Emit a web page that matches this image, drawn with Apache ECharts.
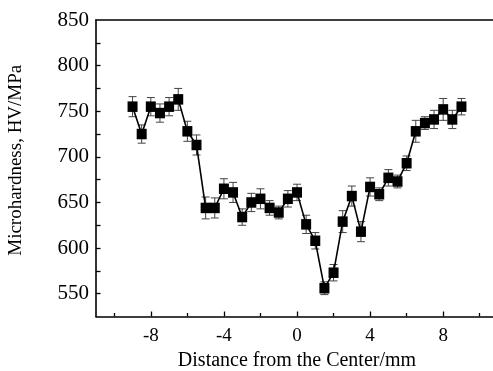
<!DOCTYPE html>
<html>
<head>
<meta charset="utf-8">
<script src="https://cdn.jsdelivr.net/npm/echarts@6/dist/echarts.min.js"></script>
<style>
  html, body { margin: 0; padding: 0; background: #fff; }
  #chart { width: 493px; height: 371px; }
</style>
</head>
<body>
<div id="chart"></div>
<script>
// Distance from the weld center (mm)
const distance = [-9, -8.5, -8, -7.5, -7, -6.5, -6, -5.5, -5, -4.5, -4, -3.5, -3, -2.5, -2, -1.5, -1, -0.5,
                  0, 0.5, 1, 1.5, 2, 2.5, 3, 3.5, 4, 4.5, 5, 5.5, 6, 6.5, 7, 7.5, 8, 8.5, 9];
// Mean microhardness (HV/MPa)
const hardness = [755, 725, 755, 748, 755, 763, 728, 713, 644, 644, 665, 661, 634, 650, 654, 644, 639, 654,
                  661, 626, 608, 556, 573, 629, 657, 618, 667, 659, 677, 673, 693, 728, 737, 741, 752, 741, 755];
// Half-width of the error bars
const spread = [11, 10, 10, 10, 10, 12, 11, 11, 12, 11, 11, 11, 9, 10, 11, 8, 7, 9,
                9, 10, 9, 7, 9, 12, 11, 11, 10, 7, 9, 7, 8, 12, 7, 10, 12, 10, 9];

const xLabels = [-8, -4, 0, 4, 8];
const xMinorTicks = [-10, -6, -2, 2, 6, 10];
const yLabels = [550, 600, 650, 700, 750, 800, 850];
const yTicks = [550, 575, 600, 625, 650, 675, 700, 725, 750, 775, 800, 825];

const serif = '"Liberation Serif", "Times New Roman", serif';
const ink = '#000';

const points = distance.map((d, i) => [d, hardness[i]]);
const bars = distance.map((d, i) => [d, hardness[i] - spread[i], hardness[i] + spread[i]]);

const chart = echarts.init(document.getElementById('chart'), null, { renderer: 'canvas' });

chart.setOption({
  animation: false,
  backgroundColor: '#fff',
  grid: { left: 96, right: -5, top: 20, bottom: 54.5, containLabel: false, outerBoundsMode: 'none' },
  xAxis: [
    {
      type: 'value', min: -11, max: 11, position: 'bottom',
      name: 'Distance from the Center/mm', nameLocation: 'middle', nameGap: 30,
      nameTextStyle: { fontFamily: serif, fontSize: 20, color: ink },
      axisLine: { onZero: false, lineStyle: { color: ink, width: 1.6 } },
      axisTick: { inside: true, length: 5, customValues: xLabels, lineStyle: { color: ink, width: 1.3 } },
      axisLabel: { customValues: xLabels, fontFamily: serif, fontSize: 19, color: ink, margin: 10 },
      splitLine: { show: false }
    },
    {
      type: 'value', min: -11, max: 11, position: 'bottom',
      axisLine: { show: false, onZero: false },
      axisTick: { inside: true, length: 3.5, customValues: xMinorTicks, lineStyle: { color: ink, width: 1.3 } },
      axisLabel: { show: false },
      splitLine: { show: false }
    },
    {
      type: 'value', min: -11, max: 11, position: 'top',
      axisLine: { onZero: false, lineStyle: { color: ink, width: 1.6 } },
      axisTick: { show: false }, axisLabel: { show: false }, splitLine: { show: false }
    }
  ],
  yAxis: {
    type: 'value', min: 525, max: 850, position: 'left',
    name: 'Microhardness, HV/MPa', nameLocation: 'middle', nameGap: 70, nameRotate: 90,
    nameTextStyle: { fontFamily: serif, fontSize: 19, color: ink, padding: [0, 0, 0, 16] },
    axisLine: { show: true, onZero: false, lineStyle: { color: ink, width: 1.6 } },
    axisTick: { show: true, inside: true, length: 4.5, customValues: yTicks, lineStyle: { color: ink, width: 1.3 } },
    axisLabel: { customValues: yLabels, fontFamily: serif, fontSize: 21, color: ink, margin: 7 },
    splitLine: { show: false }
  },
  series: [
    {
      type: 'custom',
      xAxisIndex: 0,
      z: 1,
      data: bars,
      renderItem: function (params, api) {
        const x = api.value(0);
        const lo = api.coord([x, api.value(1)]);
        const hi = api.coord([x, api.value(2)]);
        const cap = 4;
        const style = { stroke: '#444', lineWidth: 1 };
        return {
          type: 'group',
          children: [
            { type: 'line', shape: { x1: lo[0], y1: lo[1], x2: hi[0], y2: hi[1] }, style: style },
            { type: 'line', shape: { x1: lo[0] - cap, y1: lo[1], x2: lo[0] + cap, y2: lo[1] }, style: style },
            { type: 'line', shape: { x1: hi[0] - cap, y1: hi[1], x2: hi[0] + cap, y2: hi[1] }, style: style }
          ]
        };
      }
    },
    {
      type: 'line',
      xAxisIndex: 0,
      z: 2,
      data: points,
      symbol: 'rect',
      symbolSize: [10, 10.5],
      itemStyle: { color: ink },
      lineStyle: { color: ink, width: 1.6 }
    }
  ]
});
</script>
</body>
</html>
